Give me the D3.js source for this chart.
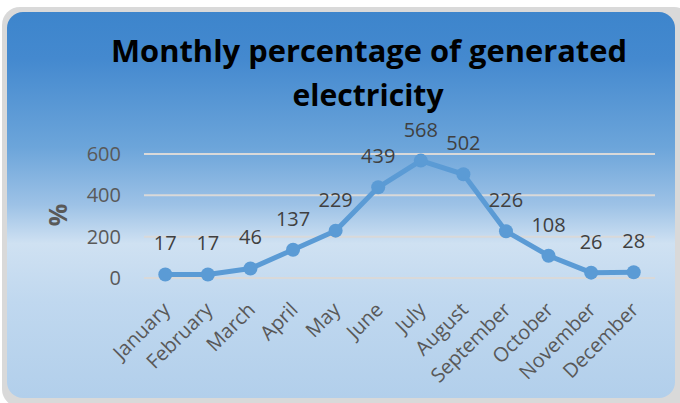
<!DOCTYPE html>
<html><head><meta charset="utf-8">
<script src="https://cdn.jsdelivr.net/npm/d3@7"></script>
<style>html,body{margin:0;padding:0;background:#fff;}svg{display:block;}</style>
</head><body><svg id="c" width="680" height="403"></svg>
<script>
const months = ["January","February","March","April","May","June","July","August","September","October","November","December"];
const values = [17,17,46,137,229,439,568,502,226,108,26,28];
const yTicks = [0,200,400,600];
const titleLines = ["Monthly percentage of generated","electricity"];
const yLabel = "%";

const svg = d3.select("#c");
const defs = svg.append("defs");
const g = defs.append("linearGradient").attr("id","bg").attr("x1",0).attr("y1",0).attr("x2",0).attr("y2",1);
[[0,"#3d85cc"],[0.12,"#4489cf"],[0.35,"#6ca5da"],[0.5,"#9dc2e6"],[0.6,"#cfe1f2"],[0.75,"#c0d8ef"],[1,"#b2cfeb"]]
  .forEach(([o,c])=>g.append("stop").attr("offset",o).attr("stop-color",c));

svg.append("rect").attr("x",2).attr("y",7).attr("width",690).attr("height",400).attr("rx",18)
  .attr("fill","#d9d9d9");
svg.append("rect").attr("x",7).attr("y",12).attr("width",668).attr("height",386).attr("rx",16)
  .attr("fill","url(#bg)");

const x = d3.scaleBand().domain(months).range([144,655]);
const y = d3.scaleLinear().domain([0,600]).range([278,154]);

// gridlines
svg.append("g").selectAll("line").data(yTicks).join("line")
  .attr("x1",144).attr("x2",655).attr("y1",d=>y(d)).attr("y2",d=>y(d))
  .attr("stroke","#d9d9d9").attr("stroke-width",2);

// y axis
const ya = svg.append("g").attr("transform","translate(121,0)")
  .call(d3.axisLeft(y).tickValues(yTicks).tickSize(0).tickPadding(0));
ya.select(".domain").remove();
ya.selectAll("text").attr("font-family","Open Sans, sans-serif").attr("font-size",20).attr("fill","#595959");

svg.append("text").attr("transform","translate(67,215) rotate(-90)").attr("text-anchor","middle")
  .attr("font-family","Open Sans, sans-serif").attr("font-weight","bold").attr("font-size",25)
  .attr("fill","#595959").text(yLabel);

// x axis
const xa = svg.append("g").attr("transform","translate(0,292)")
  .call(d3.axisBottom(x).tickSize(0).tickPadding(0));
xa.select(".domain").remove();
xa.selectAll("text").attr("font-family","Open Sans, sans-serif").attr("font-size",20).attr("fill","#595959")
  .attr("text-anchor","end").attr("dy",0).attr("transform","translate(6,19) rotate(-45)");

// line
const cx = d=>x(d.m)+x.bandwidth()/2;
const data = months.map((m,i)=>({m,v:values[i]}));
svg.append("path").datum(data).attr("fill","none").attr("stroke","#5b9bd5").attr("stroke-width",5)
  .attr("stroke-linejoin","round")
  .attr("d",d3.line().x(cx).y(d=>y(d.v)));
svg.append("g").selectAll("circle").data(data).join("circle")
  .attr("cx",cx).attr("cy",d=>y(d.v)).attr("r",7).attr("fill","#5b9bd5");
svg.append("g").selectAll("text").data(data).join("text")
  .attr("x",cx).attr("y",d=>y(d.v)-24).attr("text-anchor","middle")
  .attr("font-family","Open Sans, sans-serif").attr("font-size",20).attr("fill","#404040")
  .text(d=>d.v);

// title
svg.append("text").attr("x",369).attr("y",62).attr("text-anchor","middle")
  .attr("font-family","Open Sans, sans-serif").attr("font-weight","bold").attr("font-size",31)
  .attr("fill","#000").attr("textLength",516).attr("lengthAdjust","spacingAndGlyphs").text(titleLines[0]);
svg.append("text").attr("x",368).attr("y",106).attr("text-anchor","middle")
  .attr("font-family","Open Sans, sans-serif").attr("font-weight","bold").attr("font-size",31)
  .attr("fill","#000").attr("textLength",151).attr("lengthAdjust","spacingAndGlyphs").text(titleLines[1]);
</script></body></html>
